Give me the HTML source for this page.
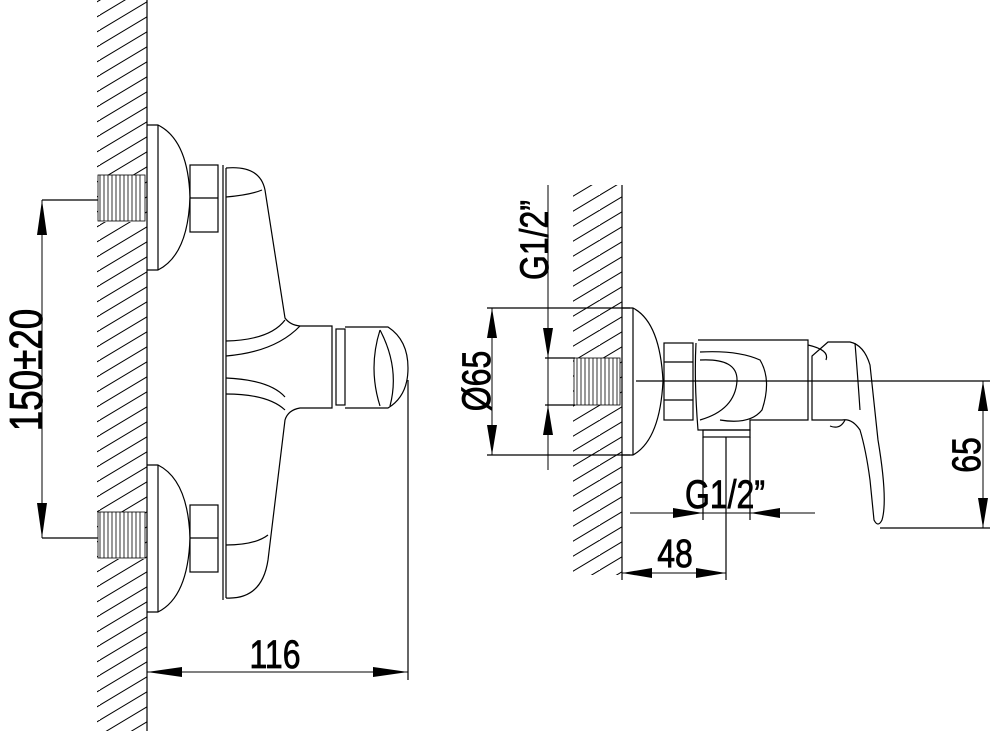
<!DOCTYPE html>
<html><head><style>html,body{margin:0;padding:0;background:#fff}svg{display:block}
text{font-family:"Liberation Sans",sans-serif;fill:#000}</style></head><body>
<svg width="996" height="731" viewBox="0 0 996 731" xmlns="http://www.w3.org/2000/svg" fill="none" stroke="#000" stroke-width="1.2">
<defs>
<pattern id="h" patternUnits="userSpaceOnUse" width="50" height="15">
<path d="M-5 18 L55 -18 M-5 33 L55 -3 M-5 3 L55 -33" stroke="#000" stroke-width="1"/>
</pattern>
</defs>
<!-- left wall -->
<rect x="97" y="0" width="50" height="731" fill="url(#h)" stroke="none"/>
<rect x="98" y="175" width="47" height="47" fill="#fff" stroke="none"/>
<rect x="98" y="512" width="47" height="47" fill="#fff" stroke="none"/>
<line x1="147" y1="0" x2="147" y2="731"/>
<g stroke-width="0.8">
<rect x="98" y="175" width="47" height="46"/><rect x="98" y="512" width="47" height="46"/>
<path d="M100 175 v46 M104 175 v46 M108 175v46 M112 175v46 M116 175v46 M120 175v46 M124 175v46 M128 175v46 M132 175v46 M136 175v46 M140 175v46"/>
<path d="M100 512 v46 M104 512 v46 M108 512v46 M112 512v46 M116 512v46 M120 512v46 M124 512v46 M128 512v46 M132 512v46 M136 512v46 M140 512v46"/>
</g>
<path d="M147 125 H158 Q188 140 190 197 Q188 255 158 270 H147"/><line x1="158" y1="125" x2="158" y2="270"/>
<path d="M147 465 H158 Q188 480 190 538 Q188 597 158 612 H147"/><line x1="158" y1="465" x2="158" y2="612"/>
<rect x="190" y="165" width="28" height="67"/><line x1="190" y1="198" x2="218" y2="198"/>
<rect x="190" y="505" width="28" height="67"/><line x1="190" y1="538" x2="218" y2="538"/>
<path d="M223 165 V600"/><path d="M226 168 V598"/>
<path d="M226 168 Q260 165 265 190 L285 318 Q290 325 300 326 H332 V408 H300 Q288 410 285 420 L268 560 Q262 600 226 598"/>
<path d="M226 197 Q250 195 262 190"/>
<path d="M226 341 Q270 340 285 320"/><path d="M226 356 Q275 352 300 326"/>
<path d="M226 378 Q270 380 285 397"/><path d="M226 394 Q268 394 285 410"/>
<path d="M226 545 Q255 545 268 535"/>
<rect x="336" y="329" width="9" height="76"/>
<path d="M345 327 H388 Q408 340 408 368 Q408 396 388 408 H345"/>
<path d="M380 330 Q368 368 380 406"/><path d="M380 330 Q400 368 390 406"/>
<line x1="408" y1="380" x2="408" y2="680"/>
<line x1="42" y1="200" x2="98" y2="200"/><line x1="42" y1="538" x2="98" y2="538"/>
<line x1="42" y1="200" x2="42" y2="538" stroke-width="1"/>
<path d="M42 200 l-5 35 h10z M42 538 l-5 -35 h10z" fill="#000" stroke="none"/>
<text transform="translate(42,370) rotate(-90) scale(0.8,1)" font-size="46" text-anchor="middle" stroke="#000" stroke-width="0.8">150±20</text>
<line x1="147" y1="672" x2="408" y2="672" stroke-width="1"/>
<path d="M147 672 l35 -5 v10z M408 672 l-35 -5 v10z" fill="#000" stroke="none"/>
<text transform="translate(275,668) scale(0.8,1)" font-size="40" text-anchor="middle" stroke="#000" stroke-width="0.8">116</text>
<!-- right wall -->
<rect x="573" y="185" width="49" height="390" fill="url(#h)" stroke="none"/>
<rect x="574" y="358" width="46" height="47" fill="#fff" stroke="none"/>
<line x1="622" y1="185" x2="622" y2="575"/>
<g stroke-width="0.8"><rect x="574" y="358" width="46" height="47"/>
<path d="M577 358v47 M581 358v47 M585 358v47 M589 358v47 M593 358v47 M597 358v47 M601 358v47 M605 358v47 M609 358v47 M613 358v47 M617 358v47"/></g>
<path d="M622 308 H633 Q660 322 663 381 Q660 440 633 455 H622"/><line x1="633" y1="308" x2="633" y2="455"/>
<rect x="664" y="343" width="29" height="77"/><line x1="664" y1="362" x2="693" y2="362"/><line x1="664" y1="400" x2="693" y2="400"/>
<path d="M696 343 Q694 380 698 430 H750 V420 H808 V340 H698"/>
<path d="M700 352 Q738 350 760 360 Q772 380 762 410 Q750 425 720 420"/>
<path d="M700 360 Q738 358 737 381 Q735 410 700 420"/>
<path d="M808 345 Q830 350 826 360"/>
<path d="M812 420 V356 L828 342 H850 Q864 345 870 365 L878 440 Q888 500 882 520 Q878 528 874 520 L870 480 Q866 450 860 430 Q852 418 842 420 Z"/>
<path d="M855 343 Q858 380 860 410"/><path d="M845 420 Q840 430 830 426"/>
<rect x="703" y="430" width="47" height="7"/>
<line x1="636" y1="381" x2="990" y2="381"/>
<line x1="487" y1="308" x2="630" y2="308"/><line x1="487" y1="455" x2="630" y2="455"/>
<line x1="492" y1="308" x2="492" y2="455" stroke-width="1"/>
<path d="M492 308 l-5 30 h10z M492 455 l-5 -30 h10z" fill="#000" stroke="none"/>
<text transform="translate(490,381) rotate(-90) scale(0.8,1)" font-size="40" text-anchor="middle" stroke="#000" stroke-width="0.8">Ø65</text>
<line x1="545" y1="358" x2="575" y2="358"/><line x1="545" y1="405" x2="575" y2="405"/>
<line x1="548" y1="185" x2="548" y2="470" stroke-width="1"/>
<path d="M548 358 l-5 -30 h10z M548 405 l-5 30 h10z" fill="#000" stroke="none"/>
<text transform="translate(548,240) rotate(-90) scale(0.8,1)" font-size="40" text-anchor="middle" stroke="#000" stroke-width="0.8">G1/2”</text>
<line x1="703" y1="437" x2="703" y2="520"/><line x1="750" y1="437" x2="750" y2="520"/>
<line x1="726" y1="437" x2="726" y2="580"/><line x1="622" y1="575" x2="622" y2="580"/>
<line x1="630" y1="513" x2="815" y2="513" stroke-width="1"/>
<path d="M703 513 l-30 -5 v10z M750 513 l30 -5 v10z" fill="#000" stroke="none"/>
<text transform="translate(725,508) scale(0.8,1)" font-size="40" text-anchor="middle" stroke="#000" stroke-width="0.8">G1/2”</text>
<line x1="622" y1="573" x2="726" y2="573" stroke-width="1"/>
<path d="M622 573 l30 -5 v10z M726 573 l-30 -5 v10z" fill="#000" stroke="none"/>
<text transform="translate(675,567) scale(0.8,1)" font-size="40" text-anchor="middle" stroke="#000" stroke-width="0.8">48</text>
<line x1="880" y1="528" x2="990" y2="528"/>
<line x1="983" y1="381" x2="983" y2="528" stroke-width="1"/>
<path d="M983 381 l-5 30 h10z M983 528 l-5 -30 h10z" fill="#000" stroke="none"/>
<text transform="translate(980,455) rotate(-90) scale(0.8,1)" font-size="40" text-anchor="middle" stroke="#000" stroke-width="0.8">65</text>
</svg>
</body></html>
